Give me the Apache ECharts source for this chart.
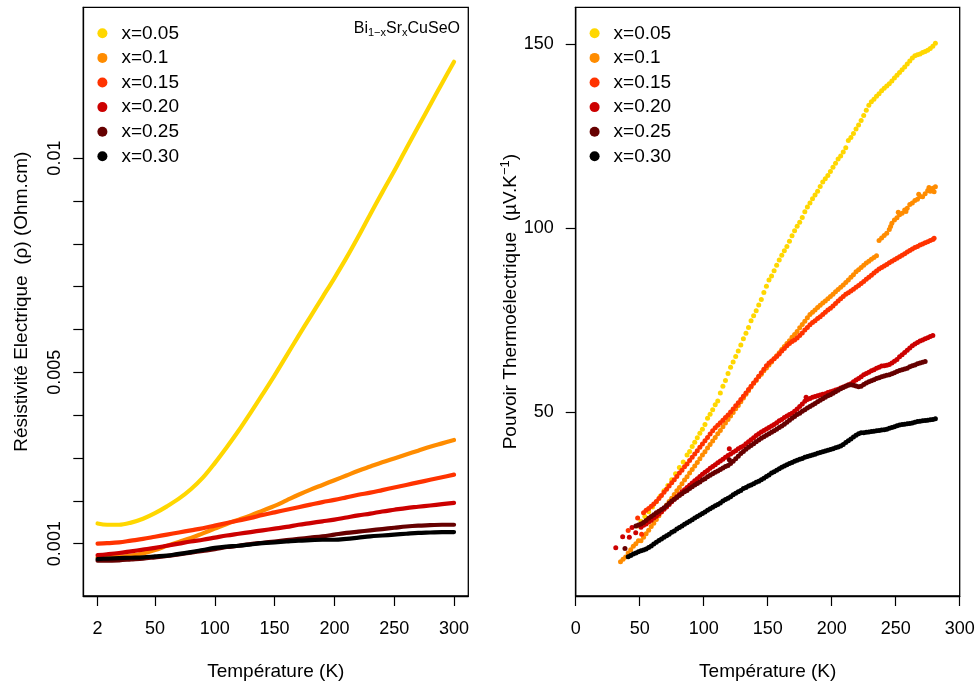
<!DOCTYPE html>
<html>
<head>
<meta charset="utf-8">
<script src="https://cdn.jsdelivr.net/npm/echarts@6/dist/echarts.min.js"></script>
<style>html,body{margin:0;padding:0;background:#fff}#c{width:980px;height:686px}</style>
</head>
<body>
<div id="c"></div>
<script>
// ---------- names / colours ----------
var seriesNames = ['x=0.05', 'x=0.1', 'x=0.15', 'x=0.20', 'x=0.25', 'x=0.30'];
var seriesColors = ['#FFD700', '#FF8C00', '#FF3300', '#CC0000', '#660000', '#000000'];

// ---------- left panel: resistivity (Ohm.cm) vs T (K) ----------
var rhoT = [2, 10, 20, 30, 40, 50, 60, 70, 80, 90, 100, 110, 120, 130, 140, 150, 160, 170, 180, 190, 200, 210, 220, 230, 240, 250, 260, 270, 280, 290, 300];
var rho005 = [0.00147, 0.00144, 0.00144, 0.00149, 0.00158, 0.00171, 0.00187, 0.00205, 0.00227, 0.00254, 0.00288, 0.00325, 0.00364, 0.00406, 0.00449, 0.00493, 0.00539, 0.00585, 0.00630, 0.00675, 0.00720, 0.00767, 0.00817, 0.00869, 0.00920, 0.00970, 0.01022, 0.01073, 0.01124, 0.01175, 0.01225];
var rho010 = [0.00068, 0.00068, 0.00069, 0.00072, 0.00077, 0.00085, 0.00095, 0.00104, 0.00113, 0.00124, 0.00135, 0.00146, 0.00156, 0.00166, 0.00177, 0.00188, 0.00201, 0.00214, 0.00226, 0.00237, 0.00248, 0.00259, 0.00270, 0.00280, 0.00290, 0.00299, 0.00308, 0.00317, 0.00326, 0.00334, 0.00342];
var rho015 = [0.00100, 0.00101, 0.00103, 0.00107, 0.00111, 0.00116, 0.00121, 0.00126, 0.00131, 0.00136, 0.00142, 0.00148, 0.00154, 0.00160, 0.00167, 0.00173, 0.00179, 0.00185, 0.00191, 0.00197, 0.00202, 0.00208, 0.00214, 0.00219, 0.00225, 0.00231, 0.00237, 0.00243, 0.00249, 0.00255, 0.00261];
var rho020 = [0.00073, 0.00075, 0.00078, 0.00082, 0.00086, 0.00090, 0.00095, 0.00100, 0.00105, 0.00109, 0.00114, 0.00119, 0.00123, 0.00127, 0.00131, 0.00135, 0.00139, 0.00144, 0.00148, 0.00152, 0.00156, 0.00161, 0.00166, 0.00170, 0.00175, 0.00179, 0.00183, 0.00186, 0.00189, 0.00192, 0.00195];
var rho025 = [0.00060, 0.00060, 0.00061, 0.00063, 0.00065, 0.00068, 0.00071, 0.00075, 0.00079, 0.00083, 0.00087, 0.00092, 0.00095, 0.00099, 0.00102, 0.00105, 0.00108, 0.00111, 0.00114, 0.00117, 0.00121, 0.00125, 0.00128, 0.00131, 0.00134, 0.00137, 0.00140, 0.00142, 0.00143, 0.00144, 0.00144];
var rho030 = [0.00064, 0.00065, 0.00066, 0.00067, 0.00068, 0.00070, 0.00072, 0.00076, 0.00080, 0.00085, 0.00090, 0.00093, 0.00095, 0.00098, 0.00101, 0.00103, 0.00105, 0.00107, 0.00108, 0.00109, 0.00109, 0.00111, 0.00114, 0.00117, 0.00119, 0.00121, 0.00123, 0.00125, 0.00126, 0.00127, 0.00127];

var leftXTicks = [2, 50, 100, 150, 200, 250, 300];
var leftYTicks = [0.001, 0.002, 0.003, 0.004, 0.005, 0.006, 0.007, 0.008, 0.009, 0.01];
var leftYLabels = [0.001, 0.005, 0.01];

// ---------- right panel: Seebeck (µV/K) vs T (K), [T, S] ----------
var see005 = [[48,19.0],[51,20.3],[54,21.6],[57,22.9],[60,24.2],[63,25.6],[66,27.1],[69,28.6],[72,30.0],[75,31.6],[78,33.2],[81,34.9],[84,36.4],[87,38.3],[89,39.3],[91,40.6],[93,41.8],[95,43.0],[97,44.2],[99,45.3],[101,46.6],[103,48.3],[105,49.4],[107,50.6],[109,52.0],[111,53.0],[113,55.2],[115,57.0],[117,58.6],[119,60.5],[121,62.2],[123,63.6],[125,65.1],[127,66.6],[129,68.2],[131,69.9],[133,71.4],[135,73.0],[137,74.8],[139,76.2],[141,77.5],[143,79.1],[145,80.6],[147,82.5],[149,84.2],[151,85.9],[153,87.0],[155,88.4],[157,89.9],[159,91.3],[161,92.6],[163,93.8],[165,95.0],[167,96.4],[169,97.9],[171,99.3],[173,100.5],[175,101.6],[177,102.9],[179,104.4],[181,105.7],[183,106.8],[185,108.0],[187,109.0],[189,110.0],[191,111.3],[193,112.5],[195,113.4],[197,114.3],[199,115.4],[201,116.5],[203,117.6],[205,118.8],[207,119.6],[209,120.7],[211,121.8],[213,123.8],[215,124.6],[217,125.7],[219,126.9],[221,128.0],[223,129.2],[225,130.6],[227,132.0],[229,133.4],[231,134.3],[233,135.0],[235,135.8],[237,136.5],[239,137.3],[241,138.0],[243,138.6],[245,139.2],[247,140.0],[249,140.8],[251,141.5],[253,142.3],[255,143.0],[257,143.8],[259,144.6],[261,145.4],[263,146.2],[265,146.8],[267,147.1],[269,147.3],[271,147.7],[273,148.0],[275,148.3],[277,148.8],[279,149.4],[281,150.2]];
var see010 = [[35,9.3],[37,10.0],[39,10.6],[41,11.7],[43,12.6],[45,13.5],[47,14.2],[49,15.0],[51,15.0],[53,16.0],[55,16.9],[57,17.9],[59,18.9],[61,19.8],[63,20.8],[65,21.8],[67,22.8],[69,23.7],[71,24.7],[73,25.7],[75,26.6],[77,27.6],[79,28.6],[81,29.5],[83,30.5],[85,31.5],[87,32.4],[89,33.4],[91,34.4],[93,35.3],[95,36.3],[97,37.3],[99,38.3],[101,39.2],[103,40.2],[105,41.2],[107,42.1],[109,43.1],[111,44.1],[113,45.0],[115,46.0],[117,47.0],[119,48.0],[121,48.9],[123,49.9],[125,50.9],[127,51.8],[129,52.8],[131,53.8],[133,54.8],[135,55.8],[137,56.8],[139,57.8],[141,58.6],[143,59.6],[145,60.3],[147,61.2],[149,62.0],[151,62.8],[153,63.6],[155,64.5],[157,65.3],[159,66.1],[161,67.0],[163,67.8],[165,68.6],[167,69.4],[169,70.3],[171,71.1],[173,71.9],[175,72.9],[177,73.8],[179,74.7],[181,75.6],[183,76.5],[185,77.1],[187,77.7],[189,78.4],[191,79.0],[193,79.6],[195,80.2],[197,80.8],[199,81.4],[201,82.0],[203,82.7],[205,83.3],[207,83.9],[209,84.5],[211,85.2],[213,85.9],[215,86.6],[217,87.3],[219,88.1],[221,88.7],[223,89.3],[225,89.9],[227,90.5],[229,91.0],[231,91.5],[233,92.0],[235,92.5],[237,96.6],[239,97.3],[241,98.0],[243,98.6],[245,99.6],[246,100.4],[247,101.3],[249,102.2],[251,102.8],[252,104.3],[253,103.6],[255,104.0],[257,104.9],[258,104.5],[259,105.4],[261,106.4],[263,106.8],[265,107.5],[267,107.8],[268,109.2],[269,108.6],[271,108.5],[273,109.3],[275,110.2],[276,111.0],[277,110.0],[279,110.8],[280,109.9],[281,111.2]];
var see015 = [[41,17.8],[48.4,21.2],[51.5,16.8],[53,22.6],[55,23.3],[57,23.8],[59,24.4],[61,25.0],[63,25.7],[65,26.5],[67,27.3],[69,28.2],[71,29.0],[73,29.9],[75,30.8],[77,31.6],[79,32.5],[81,33.4],[83,34.2],[85,35.1],[87,35.9],[89,36.8],[91,37.7],[93,38.6],[95,39.5],[97,40.4],[99,41.3],[101,42.2],[103,43.1],[105,44.0],[107,44.9],[109,45.7],[111,46.4],[113,47.1],[115,47.8],[117,48.5],[119,49.2],[121,50.0],[123,50.8],[125,51.7],[127,52.5],[129,53.4],[131,54.3],[133,55.2],[135,56.1],[137,57.0],[139,57.9],[141,58.8],[143,59.7],[145,60.7],[147,61.6],[149,62.6],[151,63.3],[153,63.9],[155,64.5],[157,65.1],[159,65.8],[161,66.6],[163,67.3],[165,68.0],[167,68.6],[169,69.2],[171,69.6],[173,70.1],[175,70.8],[177,71.5],[179,72.3],[181,73.0],[183,73.7],[185,74.3],[187,74.8],[189,75.4],[191,75.9],[193,76.5],[195,77.1],[197,77.7],[199,78.2],[201,78.8],[203,79.5],[205,80.2],[207,80.8],[209,81.4],[211,82.0],[213,82.4],[215,82.9],[217,83.4],[219,83.9],[221,84.4],[223,84.9],[225,85.5],[227,86.1],[229,86.6],[231,87.2],[233,87.8],[235,88.3],[237,88.9],[239,89.3],[241,89.7],[243,90.1],[245,90.6],[247,91.0],[249,91.4],[251,91.8],[253,92.2],[255,92.6],[257,93.0],[259,93.5],[261,93.9],[263,94.3],[265,94.7],[267,95.0],[269,95.4],[271,95.7],[273,96.0],[275,96.3],[277,96.6],[279,96.9],[280,97.2]];
var see020 = [[31.3,13.1],[36.7,16.1],[41.9,16.0],[44,18.6],[46.9,17.2],[51,18.7],[53,19.2],[55,19.6],[57,20.1],[59,20.6],[61,21.2],[63,21.7],[65,22.3],[67,22.9],[69,23.6],[71,24.2],[73,24.9],[75,25.6],[77,26.3],[79,27.0],[81,27.6],[83,28.3],[85,28.9],[87,29.5],[89,30.1],[91,30.7],[93,31.3],[95,31.9],[97,32.5],[99,33.1],[101,33.6],[103,34.1],[105,34.7],[107,35.2],[109,35.7],[111,36.2],[113,36.7],[115,37.2],[117,37.7],[119,38.2],[120,40.0],[121,38.6],[123,39.1],[125,39.5],[127,40.0],[129,40.4],[131,40.8],[133,41.4],[135,41.9],[137,42.5],[139,43.0],[141,43.6],[143,44.1],[145,44.6],[147,45.0],[149,45.4],[151,45.8],[153,46.2],[155,46.6],[157,47.1],[159,47.6],[161,48.0],[163,48.5],[165,48.9],[167,49.3],[169,49.7],[171,50.2],[173,50.8],[175,51.5],[177,52.2],[179,52.9],[180,54.0],[181,53.4],[183,53.7],[185,54.0],[187,54.2],[189,54.4],[191,54.6],[193,54.8],[195,55.0],[197,55.3],[199,55.5],[201,55.7],[203,56.0],[205,56.2],[207,56.5],[209,56.8],[211,57.1],[213,57.4],[215,57.7],[217,58.2],[219,58.7],[221,59.1],[223,59.6],[225,60.1],[227,60.5],[229,60.8],[231,61.2],[233,61.5],[235,61.9],[237,62.2],[239,62.5],[241,62.6],[243,62.7],[245,62.9],[247,63.3],[249,63.8],[251,64.3],[253,65.0],[255,65.6],[257,66.2],[259,66.8],[261,67.4],[263,68.0],[265,68.5],[267,68.9],[269,69.3],[271,69.6],[273,69.9],[275,70.2],[277,70.5],[279,70.8]];
var see025 = [[38.5,12.9],[47,19.0],[49,19.3],[51,19.6],[53,20.0],[55,20.5],[57,21.1],[59,21.6],[61,22.1],[63,22.6],[65,23.0],[67,23.5],[69,24.0],[71,24.6],[73,25.2],[75,25.8],[77,26.3],[79,26.8],[81,27.3],[83,27.8],[85,28.3],[87,28.7],[89,29.2],[91,29.7],[93,30.2],[95,30.6],[97,31.0],[99,31.5],[101,31.9],[103,32.4],[105,32.8],[107,33.2],[109,33.6],[111,34.0],[113,34.4],[115,34.8],[117,35.2],[119,35.5],[120,37.0],[121,36.0],[123,36.6],[125,37.3],[127,38.0],[129,38.7],[131,39.3],[133,39.9],[135,40.4],[137,40.9],[139,41.4],[141,41.9],[143,42.4],[145,42.9],[147,43.3],[149,43.7],[151,44.1],[153,44.5],[155,44.9],[157,45.3],[159,45.8],[161,46.2],[163,46.7],[165,47.2],[167,47.8],[169,48.3],[171,48.8],[173,49.3],[175,49.7],[177,50.2],[179,50.6],[181,51.1],[183,51.5],[185,51.9],[187,52.3],[189,52.8],[191,53.2],[193,53.6],[195,54.0],[197,54.4],[199,54.7],[201,55.1],[203,55.5],[205,55.9],[207,56.3],[209,56.7],[211,57.0],[213,57.3],[215,57.4],[217,57.3],[219,57.1],[221,56.9],[223,57.0],[225,57.5],[227,57.9],[229,58.2],[231,58.5],[233,58.8],[235,59.1],[237,59.3],[239,59.6],[241,59.8],[243,60.0],[245,60.1],[247,60.4],[249,60.7],[251,61.0],[253,61.3],[255,61.5],[257,61.7],[259,61.9],[261,62.3],[263,62.6],[265,62.8],[267,63.1],[269,63.3],[271,63.5],[273,63.7]];
var see030 = [[41,10.7],[43,11.0],[45,11.4],[47,11.7],[49,12.0],[51,12.3],[53,12.5],[55,12.8],[57,13.2],[59,13.6],[61,14.1],[63,14.6],[65,15.1],[67,15.5],[69,16.0],[71,16.4],[73,16.8],[75,17.3],[77,17.7],[79,18.2],[81,18.6],[83,19.0],[85,19.5],[87,19.9],[89,20.3],[91,20.7],[93,21.2],[95,21.6],[97,22.0],[99,22.4],[101,22.8],[103,23.3],[105,23.7],[107,24.1],[109,24.5],[111,24.9],[113,25.3],[115,25.8],[117,26.2],[119,26.6],[121,27.0],[123,27.5],[125,27.9],[127,28.3],[129,28.7],[131,29.2],[133,29.5],[135,29.9],[137,30.2],[139,30.5],[141,30.9],[143,31.2],[145,31.6],[147,32.0],[149,32.5],[151,32.9],[153,33.4],[155,33.8],[157,34.2],[159,34.6],[161,35.0],[163,35.3],[165,35.7],[167,36.0],[169,36.3],[171,36.6],[173,36.9],[175,37.2],[177,37.4],[179,37.7],[181,37.9],[183,38.1],[185,38.3],[187,38.5],[189,38.8],[191,39.0],[193,39.2],[195,39.4],[197,39.6],[199,39.8],[201,40.0],[203,40.3],[205,40.5],[207,40.8],[209,41.2],[211,41.7],[213,42.2],[215,42.7],[217,43.2],[219,43.7],[221,44.1],[223,44.4],[225,44.4],[227,44.5],[229,44.6],[231,44.7],[233,44.8],[235,44.9],[237,45.0],[239,45.1],[241,45.2],[243,45.3],[245,45.6],[247,45.8],[249,46.0],[251,46.3],[253,46.5],[255,46.6],[257,46.7],[259,46.8],[261,46.9],[263,47.0],[265,47.2],[267,47.4],[269,47.5],[271,47.6],[273,47.7],[275,47.8],[277,47.9],[279,48.0],[281,48.2]];

var rightXTicks = [0, 50, 100, 150, 200, 250, 300];
var rightYTicks = [50, 100, 150];

// ---------- build ----------
var FONT = 'Liberation Sans, Arial, Helvetica, sans-serif';
var rhoSets = [rho005, rho010, rho015, rho020, rho025, rho030];
var seeSets = [see005, see010, see015, see020, see025, see030];

var series = [];
rhoSets.forEach(function (arr, i) {
  series.push({
    name: seriesNames[i], type: 'line', xAxisIndex: 0, yAxisIndex: 0,
    data: rhoT.map(function (t, k) { return [t, arr[k]]; }),
    smooth: 0.35, showSymbol: false, symbol: 'none',
    lineStyle: { color: seriesColors[i], width: 4.2, cap: 'round', join: 'round' },
    itemStyle: { color: seriesColors[i] },
    z: 2 + i, silent: true, animation: false
  });
});
seeSets.forEach(function (arr, i) {
  series.push({
    name: seriesNames[i], type: 'scatter', xAxisIndex: 1, yAxisIndex: 1,
    data: arr, symbol: 'circle', symbolSize: 5,
    itemStyle: { color: seriesColors[i], opacity: 1 },
    z: 2 + i, silent: true, animation: false
  });
});

var axisText = { color: '#000', fontFamily: FONT, fontSize: 18 };
var tickStyle = { show: true, inside: false, length: 10, lineStyle: { color: '#000', width: 1.2 } };
var lineStyleAx = { show: true, onZero: false, lineStyle: { color: '#000', width: 1.3 } };

function legendFor(left) {
  return {
    orient: 'vertical', left: left, top: 23.8, padding: 0,
    itemWidth: 28, itemHeight: 10, itemGap: 5.6, icon: 'circle',
    selectedMode: false, data: seriesNames,
    textStyle: { color: '#000', fontFamily: FONT, fontSize: 19 }
  };
}

var option = {
  animation: false,
  backgroundColor: '#fff',
  grid: [
    { left: 83.3, top: 7.3, width: 385, height: 591, show: true, borderColor: '#000', borderWidth: 1.3, backgroundColor: 'transparent' },
    { left: 575.7, top: 7.3, width: 384, height: 591, show: true, borderColor: '#000', borderWidth: 1.3, backgroundColor: 'transparent' }
  ],
  legend: [legendFor(97.4), legendFor(589.6)],
  xAxis: [
    {
      type: 'value', gridIndex: 0, min: -9.92, max: 311.92,
      axisLine: lineStyleAx, splitLine: { show: false },
      axisTick: Object.assign({ customValues: leftXTicks }, tickStyle),
      axisLabel: Object.assign({ customValues: leftXTicks, margin: 24 }, axisText),
      name: 'Température (K)', nameLocation: 'middle', nameGap: 66,
      nameTextStyle: { color: '#000', fontFamily: FONT, fontSize: 19 }
    },
    {
      type: 'value', gridIndex: 1, min: 0, max: 300,
      axisLine: lineStyleAx, splitLine: { show: false },
      axisTick: Object.assign({ customValues: rightXTicks }, tickStyle),
      axisLabel: Object.assign({ customValues: rightXTicks, margin: 24 }, axisText),
      name: 'Température (K)', nameLocation: 'middle', nameGap: 66,
      nameTextStyle: { color: '#000', fontFamily: FONT, fontSize: 19 }
    }
  ],
  yAxis: [
    {
      type: 'value', gridIndex: 0, min: -0.000223, max: 0.013521,
      axisLine: lineStyleAx, splitLine: { show: false },
      axisTick: Object.assign({ customValues: leftYTicks }, tickStyle),
      axisLabel: Object.assign({ customValues: leftYLabels, margin: 19, rotate: 90,
        formatter: function (v) { return String(+v.toFixed(4)); } }, axisText),
      name: 'Résistivité Electrique  (ρ) (Ohm.cm)', nameLocation: 'middle', nameGap: 52,
      nameTextStyle: { color: '#000', fontFamily: FONT, fontSize: 19 }
    },
    {
      type: 'value', gridIndex: 1, min: 0, max: 160,
      axisLine: lineStyleAx, splitLine: { show: false },
      axisTick: Object.assign({ customValues: rightYTicks }, tickStyle),
      axisLabel: Object.assign({ customValues: rightYTicks, margin: 22 }, axisText),
      name: '{a|Pouvoir Thermoélectrique  (µV.K}{s|−1}{a|)}', nameLocation: 'middle', nameGap: 51,
      nameTextStyle: { color: '#000', fontFamily: FONT, fontSize: 19,
        rich: { a: { fontFamily: FONT, fontSize: 19, color: '#000' },
                s: { fontFamily: FONT, fontSize: 13, color: '#000', padding: [0, 0, 9, 0] } } }
    }
  ],
  graphic: [{
    type: 'text', right: 980 - 460, top: 21,
    style: {
      text: '{a|Bi}{s|1−x}{a|Sr}{s|x}{a|CuSeO}',
      rich: {
        a: { fontFamily: FONT, fontSize: 16, fill: '#000', color: '#000' },
        s: { fontFamily: FONT, fontSize: 11, fill: '#000', color: '#000', padding: [7, 0, 0, 0] }
      }
    }
  }],
  series: series
};

var chart = echarts.init(document.getElementById('c'), null, { renderer: 'canvas' });
chart.setOption(option);
</script>
</body>
</html>
